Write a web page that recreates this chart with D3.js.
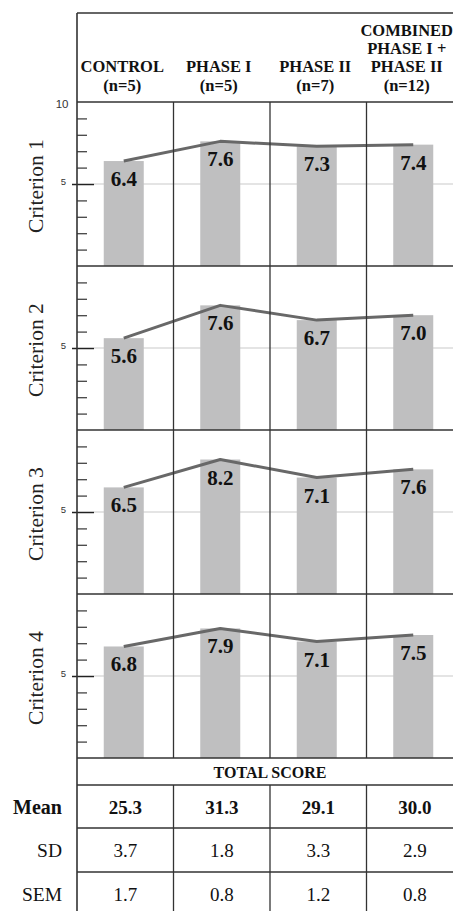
<!DOCTYPE html>
<html><head><meta charset="utf-8">
<script src="https://cdn.jsdelivr.net/npm/d3@7"></script>
<style>html,body{margin:0;padding:0;background:#fff;overflow:hidden}svg{display:block}</style>
</head><body>
<svg id="chart" width="453" height="911"></svg>
<script>
// ---------- data ----------
const groups = ["CONTROL", "PHASE I", "PHASE II", "COMBINED"];
const headerLines = [
  ["CONTROL", "(n=5)"],
  ["PHASE I", "(n=5)"],
  ["PHASE II", "(n=7)"],
  ["COMBINED", "PHASE I +", "PHASE II", "(n=12)"]
];
const criteria = ["Criterion 1", "Criterion 2", "Criterion 3", "Criterion 4"];
const criterion1 = [6.4, 7.6, 7.3, 7.4];
const criterion2 = [5.6, 7.6, 6.7, 7.0];
const criterion3 = [6.5, 8.2, 7.1, 7.6];
const criterion4 = [6.8, 7.9, 7.1, 7.5];
const criterionValues = [criterion1, criterion2, criterion3, criterion4];
const minorTicks = [1, 2, 3, 4, 6, 7, 8, 9];
const majorTick = 5;
const topTick = 10;
const tableTitle = "TOTAL SCORE";
const rowLabels = ["Mean", "SD", "SEM"];
const totalMean = [25.3, 31.3, 29.1, 30.0];
const totalSD = [3.7, 1.8, 3.3, 2.9];
const totalSEM = [1.7, 0.8, 1.2, 0.8];
const tableRows = [totalMean, totalSD, totalSEM];

// ---------- layout ----------
const W = 453, H = 911;
const left = 77, colW = 96.5, right = left + 4 * colW;
const frameTop = 13, headerBottom = 102, panelH = 164;
const tableTop = headerBottom + 4 * panelH;   // 758
const titleRowH = 27;
const rowH = [43, 44, 44];
const serif = "'Liberation Serif','Times New Roman',Times,serif";
const sans = "'Liberation Sans',Arial,sans-serif";
const frameColor = "#333";

const svg = d3.select("#chart");
svg.append("rect").attr("width", W).attr("height", H).attr("fill", "#fff");

const x = d3.scaleBand().domain(groups).range([left, right]).paddingInner(0).paddingOuter(0);
const barW = 40;
const cx = g => x(g) + x.bandwidth() / 2 - 1.5;
const y = d3.scaleLinear().domain([0, 10]).range([panelH, 0]);

// ---------- header ----------
const header = svg.append("g");
headerLines.forEach((lines, i) => {
  const colLeft = x(groups[i]);
  const hx = Math.min(colLeft + x.bandwidth() / 2, (colLeft + W) / 2) - 3;
  const n = lines.length;
  lines.forEach((t, j) => {
    header.append("text")
      .attr("x", hx)
      .attr("y", 90.5 - (n - 1 - j) * 18.3)
      .attr("text-anchor", "middle")
      .attr("font-family", serif).attr("font-weight", "bold").attr("font-size", 16.5)
      .attr("fill", "#111")
      .text(t);
  });
});

// ---------- panels ----------
const line = d3.line().x(d => cx(d.g)).y(d => y(d.v));

criterionValues.forEach((vals, p) => {
  const top = headerBottom + p * panelH;
  const g = svg.append("g").attr("transform", `translate(0,${top})`);
  const data = vals.map((v, i) => ({ g: groups[i], v }));

  // grid line at 5
  g.append("line")
    .attr("x1", left + 17).attr("x2", right)
    .attr("y1", y(majorTick)).attr("y2", y(majorTick))
    .attr("stroke", "#c9c9c9").attr("stroke-width", 1.2);

  // bars
  g.selectAll("rect.bar").data(data).join("rect")
    .attr("class", "bar")
    .attr("x", d => cx(d.g) - barW / 2)
    .attr("width", barW)
    .attr("y", d => y(d.v))
    .attr("height", d => y(0) - y(d.v))
    .attr("fill", "#bfbfc0");

  // line
  g.append("path").datum(data)
    .attr("d", line)
    .attr("fill", "none")
    .attr("stroke", "#686868")
    .attr("stroke-width", 3)
    .attr("stroke-linejoin", "round");

  // value labels
  g.selectAll("text.val").data(data).join("text")
    .attr("class", "val")
    .attr("x", d => cx(d.g))
    .attr("y", d => y(d.v) + 25)
    .attr("text-anchor", "middle")
    .attr("font-family", serif).attr("font-weight", "bold").attr("font-size", 21)
    .attr("fill", "#111")
    .text(d => d.v.toFixed(1));

  // minor ticks
  const minorAxis = d3.axisLeft(y).tickValues(minorTicks).tickSize(-10).tickFormat("");
  const ga = g.append("g").attr("transform", `translate(${left},0)`).call(minorAxis);
  ga.select(".domain").remove();
  ga.selectAll(".tick line").attr("stroke", "#444").attr("stroke-width", 1.3);

  // major tick at 5
  const majorAxis = d3.axisLeft(y).tickValues([majorTick]).tickSize(-22).tickFormat("");
  const gm = g.append("g").attr("transform", `translate(${left - 5},0)`).call(majorAxis);
  gm.select(".domain").remove();
  gm.selectAll(".tick line").attr("stroke", "#222").attr("stroke-width", 1.5);

  g.append("text")
    .attr("x", 66).attr("y", y(majorTick) + 0.5)
    .attr("text-anchor", "end")
    .attr("font-family", sans).attr("font-size", 9.5).attr("fill", "#333")
    .text(majorTick);

  if (p === 0) {
    g.append("text")
      .attr("x", 68.5).attr("y", y(topTick) + 6)
      .attr("text-anchor", "end")
      .attr("font-family", sans).attr("font-size", 11.5).attr("fill", "#333")
      .text(topTick);
  }

  // criterion label
  g.append("text")
    .attr("transform", `translate(43,${panelH / 2 + 2}) rotate(-90)`)
    .attr("text-anchor", "middle")
    .attr("font-family", serif).attr("font-size", 21.5).attr("fill", "#222")
    .text(criteria[p]);

  // column dividers
  g.selectAll("line.div").data(groups.slice(1)).join("line")
    .attr("class", "div")
    .attr("x1", d => x(d)).attr("x2", d => x(d))
    .attr("y1", 0).attr("y2", panelH)
    .attr("stroke", frameColor).attr("stroke-width", 1.3);
});

// ---------- table ----------
const tg = svg.append("g");
tg.append("text")
  .attr("x", (left + right) / 2).attr("y", tableTop + 19.5)
  .attr("text-anchor", "middle")
  .attr("font-family", serif).attr("font-weight", "bold").attr("font-size", 16)
  .attr("fill", "#111")
  .text(tableTitle);

let rowTop = tableTop + titleRowH;
const rowTops = [];
tableRows.forEach((vals, r) => {
  rowTops.push(rowTop);
  const base = rowTop + rowH[r] / 2 + 7;
  const bold = r === 0;
  tg.append("text")
    .attr("x", 62).attr("y", base)
    .attr("text-anchor", "end")
    .attr("font-family", serif).attr("font-weight", bold ? "bold" : "normal")
    .attr("font-size", bold ? 20 : 19.5)
    .attr("fill", "#111")
    .text(rowLabels[r]);
  vals.forEach((v, i) => {
    tg.append("text")
      .attr("x", x(groups[i]) + x.bandwidth() / 2)
      .attr("y", base)
      .attr("text-anchor", "middle")
      .attr("font-family", serif).attr("font-weight", bold ? "bold" : "normal")
      .attr("font-size", bold ? 19 : 19)
      .attr("fill", "#111")
      .text(v.toFixed(1));
  });
  rowTop += rowH[r];
});

// table column dividers
tg.selectAll("line.tdiv").data(groups.slice(1)).join("line")
  .attr("x1", d => x(d)).attr("x2", d => x(d))
  .attr("y1", tableTop + titleRowH).attr("y2", H)
  .attr("stroke", frameColor).attr("stroke-width", 1.3);

// ---------- frame lines ----------
const hLines = [frameTop, headerBottom];
for (let p = 1; p <= 4; p++) hLines.push(headerBottom + p * panelH);
hLines.push(tableTop + titleRowH);
rowTops.slice(1).forEach(t => hLines.push(t));
svg.append("g").selectAll("line").data(hLines).join("line")
  .attr("x1", left).attr("x2", right)
  .attr("y1", d => d).attr("y2", d => d)
  .attr("stroke", frameColor).attr("stroke-width", 1.6);

svg.append("line")
  .attr("x1", left).attr("x2", left)
  .attr("y1", frameTop).attr("y2", H)
  .attr("stroke", frameColor).attr("stroke-width", 1.6);
</script>
</body></html>
